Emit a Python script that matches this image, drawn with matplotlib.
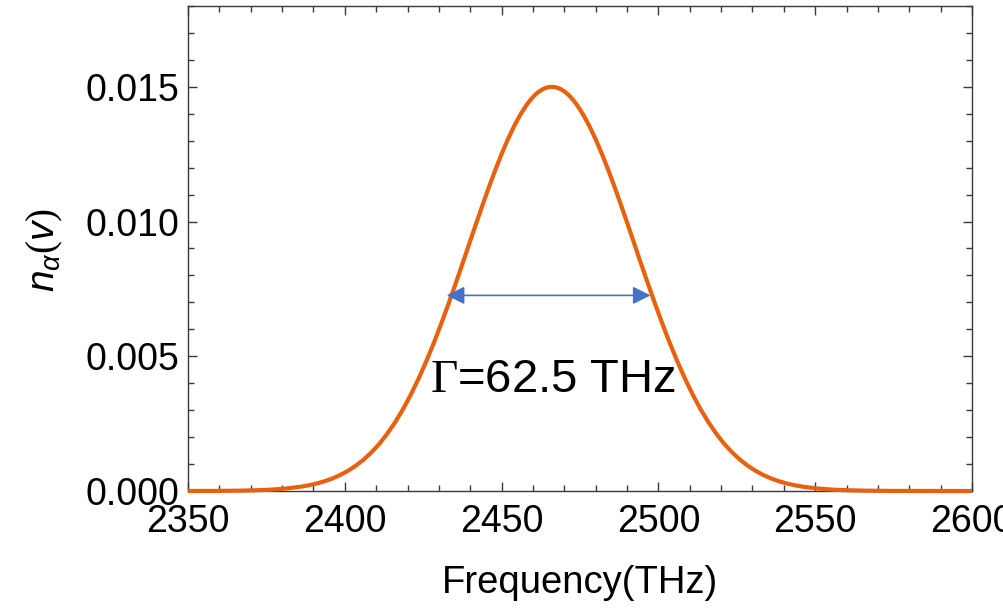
import matplotlib
matplotlib.use("Agg")
import matplotlib.pyplot as plt
from matplotlib.ticker import MultipleLocator, FormatStrFormatter

plt.rcParams['font.family'] = ['Liberation Sans', 'DejaVu Sans']
plt.rcParams['mathtext.fontset'] = 'custom'
plt.rcParams['mathtext.rm'] = 'Liberation Serif'
plt.rcParams['mathtext.it'] = 'Liberation Sans:italic'
plt.rcParams['mathtext.sf'] = 'Liberation Sans'

# spectrum (THz, n_alpha)
freq = [2350, 2356, 2361, 2366, 2371, 2376, 2381, 2386, 2388.5, 2391,
        2393.5, 2396, 2398.5, 2401, 2403.5, 2406, 2408.5, 2411, 2413.5,
        2416, 2418.5, 2421, 2423.5, 2426, 2428.5, 2431, 2433.5, 2436,
        2438, 2440, 2442, 2444, 2446, 2448, 2450, 2452, 2454, 2456, 2458,
        2459, 2460, 2461, 2462, 2463, 2464, 2465, 2466, 2467, 2468, 2469,
        2470, 2471, 2472, 2473, 2474, 2476, 2478, 2480, 2482, 2484, 2486,
        2488, 2490, 2492, 2494, 2496, 2498.5, 2501, 2503.5, 2506, 2508.5,
        2511, 2513.5, 2516, 2518.5, 2521, 2523.5, 2526, 2528.5, 2531,
        2533.5, 2536, 2538.5, 2541, 2543.5, 2546, 2551, 2556, 2561, 2566,
        2571, 2576, 2590, 2600]
n_alpha = [0.000001, 0.0000028, 0.0000060, 0.0000124, 0.0000248, 0.0000478,
           0.0000889, 0.000160, 0.000211, 0.000277, 0.000360, 0.000463,
           0.000591, 0.000748, 0.000937, 0.001165, 0.001435, 0.001748,
           0.002120, 0.002543, 0.003024, 0.003563, 0.004162, 0.004818,
           0.005528, 0.006287, 0.007087, 0.007919,
           0.008598, 0.009283, 0.009966, 0.010639, 0.011292, 0.011918,
           0.012508, 0.013052, 0.013543, 0.013972, 0.014334, 0.014487,
           0.014622, 0.014736, 0.014831, 0.014904, 0.014957, 0.014989,
           0.015000, 0.014989, 0.014957, 0.014904, 0.014831, 0.014736,
           0.014622, 0.014487, 0.014334, 0.013972, 0.013543, 0.013052,
           0.012508, 0.011918, 0.011292, 0.010639, 0.009966, 0.009283,
           0.008598, 0.007919, 0.007087, 0.006287, 0.005528, 0.004818,
           0.004162, 0.003563, 0.003024, 0.002543, 0.002120, 0.001748,
           0.001435, 0.001165, 0.000937, 0.000748, 0.000591, 0.000463,
           0.000360, 0.000277, 0.000211, 0.000160, 0.0000889, 0.0000478,
           0.0000248, 0.0000124, 0.0000060, 0.0000028, 0.0000001, 0.0]

# width marker
fwhm_left, fwhm_right, fwhm_level = 2432.5, 2497.5, 0.00726
fwhm_label = r'$\Gamma$=62.5 THz'
label_pos = (2466.5, 0.00368)

frame = '#3a3a3a'

fig = plt.figure(figsize=(10.04, 6.08), dpi=100)
ax = fig.add_axes([188 / 1004, 1 - 491 / 608, 784 / 1004, 485 / 608])

ax.plot(freq, n_alpha, color='#E8610F', lw=3, zorder=5, clip_on=False,
        solid_capstyle='butt', solid_joinstyle='round')

ax.annotate('', xy=(fwhm_right, fwhm_level), xytext=(fwhm_left, fwhm_level),
            arrowprops=dict(arrowstyle='<|-|>', color='#4472C4', lw=1.2,
                            mutation_scale=27, shrinkA=0, shrinkB=0),
            zorder=6)
ax.text(label_pos[0], label_pos[1], fwhm_label, fontsize=34,
        ha='center', va='baseline', color='black', zorder=7)

ax.set_xlim(2350, 2600)
ax.set_ylim(0, 0.018)
ax.xaxis.set_major_locator(MultipleLocator(50))
ax.xaxis.set_minor_locator(MultipleLocator(10))
ax.yaxis.set_major_locator(MultipleLocator(0.005))
ax.yaxis.set_minor_locator(MultipleLocator(0.001))
ax.yaxis.set_major_formatter(FormatStrFormatter('%.3f'))

ax.tick_params(which='both', direction='in', top=True, right=True,
               color=frame, width=1, labelsize=27, labelcolor='black')
ax.tick_params(which='major', length=6.5)
ax.tick_params(which='minor', length=4)
ax.tick_params(axis='x', which='both', pad=9)
ax.tick_params(axis='y', which='both', pad=6.5)
for sp in ax.spines.values():
    sp.set_color(frame)
    sp.set_linewidth(1)

ax.set_xlabel('Frequency(THz)', fontsize=27.5, va='center')
ax.xaxis.set_label_coords(0.5, (491 - 583) / 485)
ax.set_ylabel(r'$\mathit{n}_{\alpha}\mathit{(v)}$', fontsize=28, va='center')
ax.yaxis.set_label_coords((45 - 188) / 784, (491 - 250) / 485)

fig.savefig('out.png', dpi=100)
